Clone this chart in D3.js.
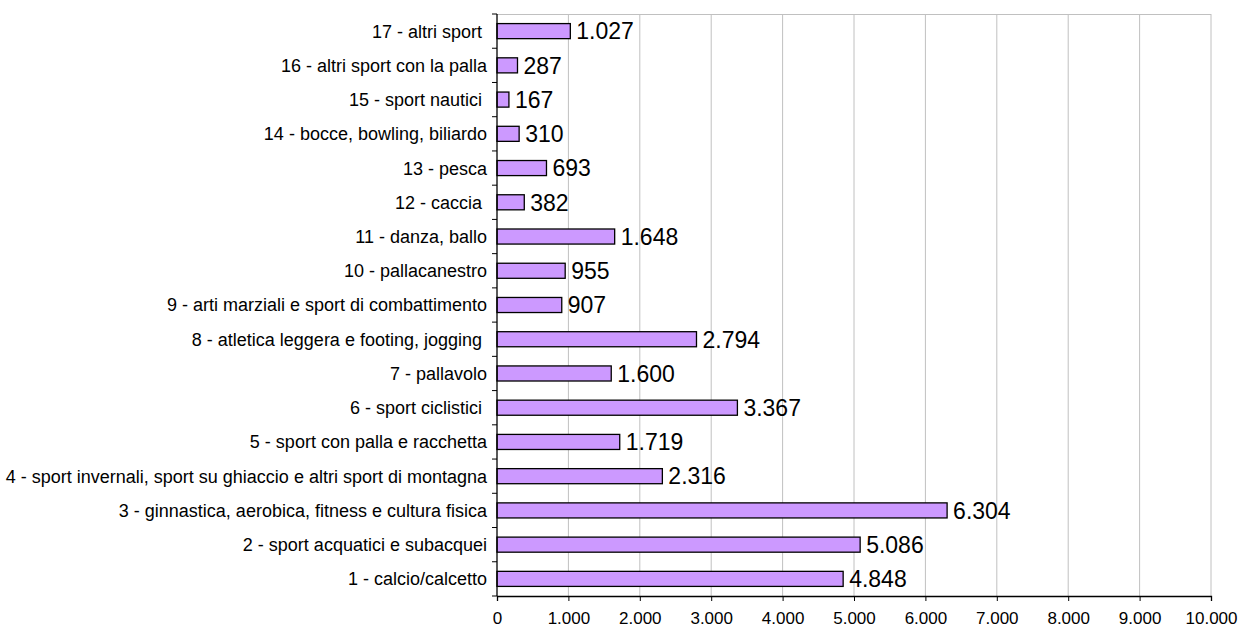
<!DOCTYPE html>
<html><head><meta charset="utf-8">
<script src="https://cdn.jsdelivr.net/npm/d3@7"></script>
<style>body{margin:0;background:#fff}svg{display:block}text{font-family:Arial,"Liberation Sans",sans-serif;white-space:pre}</style>
</head><body>
<svg id="c" width="1239" height="628"></svg>
<script>
const categories = [
"1 - calcio/calcetto",
"2 - sport acquatici e subacquei",
"3 - ginnastica, aerobica, fitness e cultura fisica",
"4 - sport invernali, sport su ghiaccio e altri sport di montagna",
"5 - sport con palla e racchetta",
"6 - sport ciclistici ",
"7 - pallavolo",
"8 - atletica leggera e footing, jogging ",
"9 - arti marziali e sport di combattimento",
"10 - pallacanestro",
"11 - danza, ballo",
"12 - caccia ",
"13 - pesca",
"14 - bocce, bowling, biliardo",
"15 - sport nautici ",
"16 - altri sport con la palla",
"17 - altri sport "];
const values = [4848,5086,6304,2316,1719,3367,1600,2794,907,955,1648,382,693,310,167,287,1027];
const xTicks = [0,1000,2000,3000,4000,5000,6000,7000,8000,9000,10000];

const svg = d3.select("#c");
const L=497, R=1211, T=14, B=596;
const x = d3.scaleLinear().domain([0,10000]).range([L,R]);
const y = d3.scaleBand().domain(categories.slice().reverse()).range([T,B]).paddingInner(0.56).paddingOuter(0.28);
const fmt = v => d3.format(",")(v).replace(/,/g,".");

// gridlines
svg.append("g").selectAll("line").data(xTicks.slice(1)).join("line")
  .attr("x1",d=>x(d)).attr("x2",d=>x(d)).attr("y1",T).attr("y2",B)
  .attr("stroke","#c0c0c0").attr("stroke-width",1);
svg.append("line").attr("x1",L).attr("x2",R).attr("y1",T+0.5).attr("y2",T+0.5).attr("stroke","#c0c0c0");

// bars
svg.append("g").selectAll("rect").data(values).join("rect")
  .attr("x",x(0)).attr("y",(d,i)=>y(categories[i]))
  .attr("width",d=>x(d)-x(0)).attr("height",y.bandwidth())
  .attr("fill","#cc99ff").attr("stroke","#000").attr("stroke-width",1.3);

// value labels
svg.append("g").selectAll("text").data(values).join("text")
  .attr("x",d=>x(d)+6).attr("y",(d,i)=>y(categories[i])+y.bandwidth()/2)
  .attr("dy","0.36em").attr("font-size",23).attr("fill","#000").text(d=>fmt(d));

// x axis
const xa = svg.append("g").attr("transform",`translate(0,${B})`)
  .call(d3.axisBottom(x).tickValues(xTicks).tickFormat(fmt).tickSize(5).tickPadding(11));
xa.select(".domain").attr("stroke","#000").attr("stroke-width",1.3);
xa.selectAll(".tick line").attr("stroke","#000");
xa.selectAll("text").attr("font-size",17).attr("font-family","Arial,'Liberation Sans',sans-serif");

// y axis line and ticks at band boundaries
svg.append("line").attr("x1",L).attr("x2",L).attr("y1",T).attr("y2",B).attr("stroke","#000").attr("stroke-width",1.3);
const step = (B-T)/categories.length;
svg.append("g").selectAll("line").data(d3.range(categories.length+1)).join("line")
  .attr("x1",L-5).attr("x2",L).attr("y1",i=>T+i*step).attr("y2",i=>T+i*step).attr("stroke","#000");

// category labels
svg.append("g").selectAll("text").data(categories).join("text")
  .attr("x",487).attr("y",d=>y(d)+y.bandwidth()/2).attr("dy","0.36em")
  .attr("text-anchor","end").attr("font-size",18).attr("fill","#000").text(d=>d);
</script>
</body></html>
